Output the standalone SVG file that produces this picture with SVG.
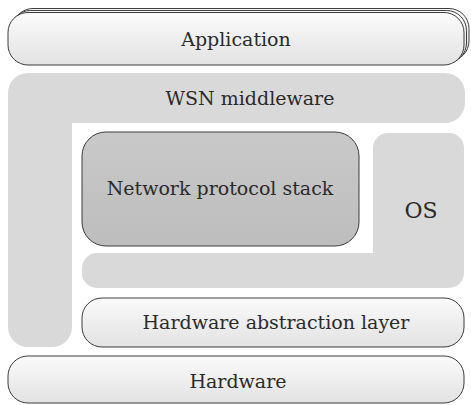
<svg xmlns="http://www.w3.org/2000/svg" width="471" height="405" viewBox="0 0 471 405">
<style>
.lbl{font-family:"DejaVu Serif","Liberation Serif",serif;font-size:19px;fill:#2b2b2b;text-anchor:middle}
.pill{fill:url(#gLight);stroke:#3c3c3c;stroke-width:1}
.gray{fill:#d9d9d9}
</style>
<defs>
<linearGradient id="gLight" x1="0" y1="0" x2="0" y2="1">
<stop offset="0" stop-color="#fbfbfb"/>
<stop offset="1" stop-color="#e2e2e2"/>
</linearGradient>
<linearGradient id="gDark" x1="0" y1="0" x2="0" y2="1">
<stop offset="0" stop-color="#c9c9c9"/>
<stop offset="1" stop-color="#bdbdbd"/>
</linearGradient>
</defs>
<rect width="471" height="405" fill="#ffffff"/>
<g id="application">
<rect class="pill" x="13" y="8.5" width="456" height="52.5" rx="20"/>
<rect class="pill" x="10.5" y="10.5" width="456" height="52.5" rx="20"/>
<rect class="pill" x="8" y="12.5" width="456" height="52.5" rx="20"/>
<text class="lbl" x="236" y="46">Application</text>
</g>
<g id="wsn-middleware">
<path class="gray" d="M28,73 H445 A20,20 0 0 1 465,93 V103 A20,20 0 0 1 445,123 H72 V327 A20,20 0 0 1 52,347 H28 A20,20 0 0 1 8,327 V93 A20,20 0 0 1 28,73 Z"/>
<text class="lbl" x="250" y="105">WSN middleware</text>
</g>
<g id="os">
<path class="gray" d="M388,133 H449 A15,15 0 0 1 464,148 V273 A15,15 0 0 1 449,288 H97 A15,15 0 0 1 82,273 V268 A15,15 0 0 1 97,253 H373 V148 A15,15 0 0 1 388,133 Z"/>
<text class="lbl" x="421" y="218" style="font-size:22px">OS</text>
</g>
<g id="network-protocol-stack">
<rect x="82" y="132" width="277" height="114" rx="24" fill="url(#gDark)" stroke="#3c3c3c" stroke-width="1"/>
<text class="lbl" x="220" y="195">Network protocol stack</text>
</g>
<g id="hardware-abstraction-layer">
<rect class="pill" x="82" y="298" width="382" height="49" rx="20"/>
<text class="lbl" x="276" y="329">Hardware abstraction layer</text>
</g>
<g id="hardware">
<rect class="pill" x="8" y="356" width="456" height="47" rx="20"/>
<text class="lbl" x="238" y="388">Hardware</text>
</g>
<g id="connectors"/>
</svg>
